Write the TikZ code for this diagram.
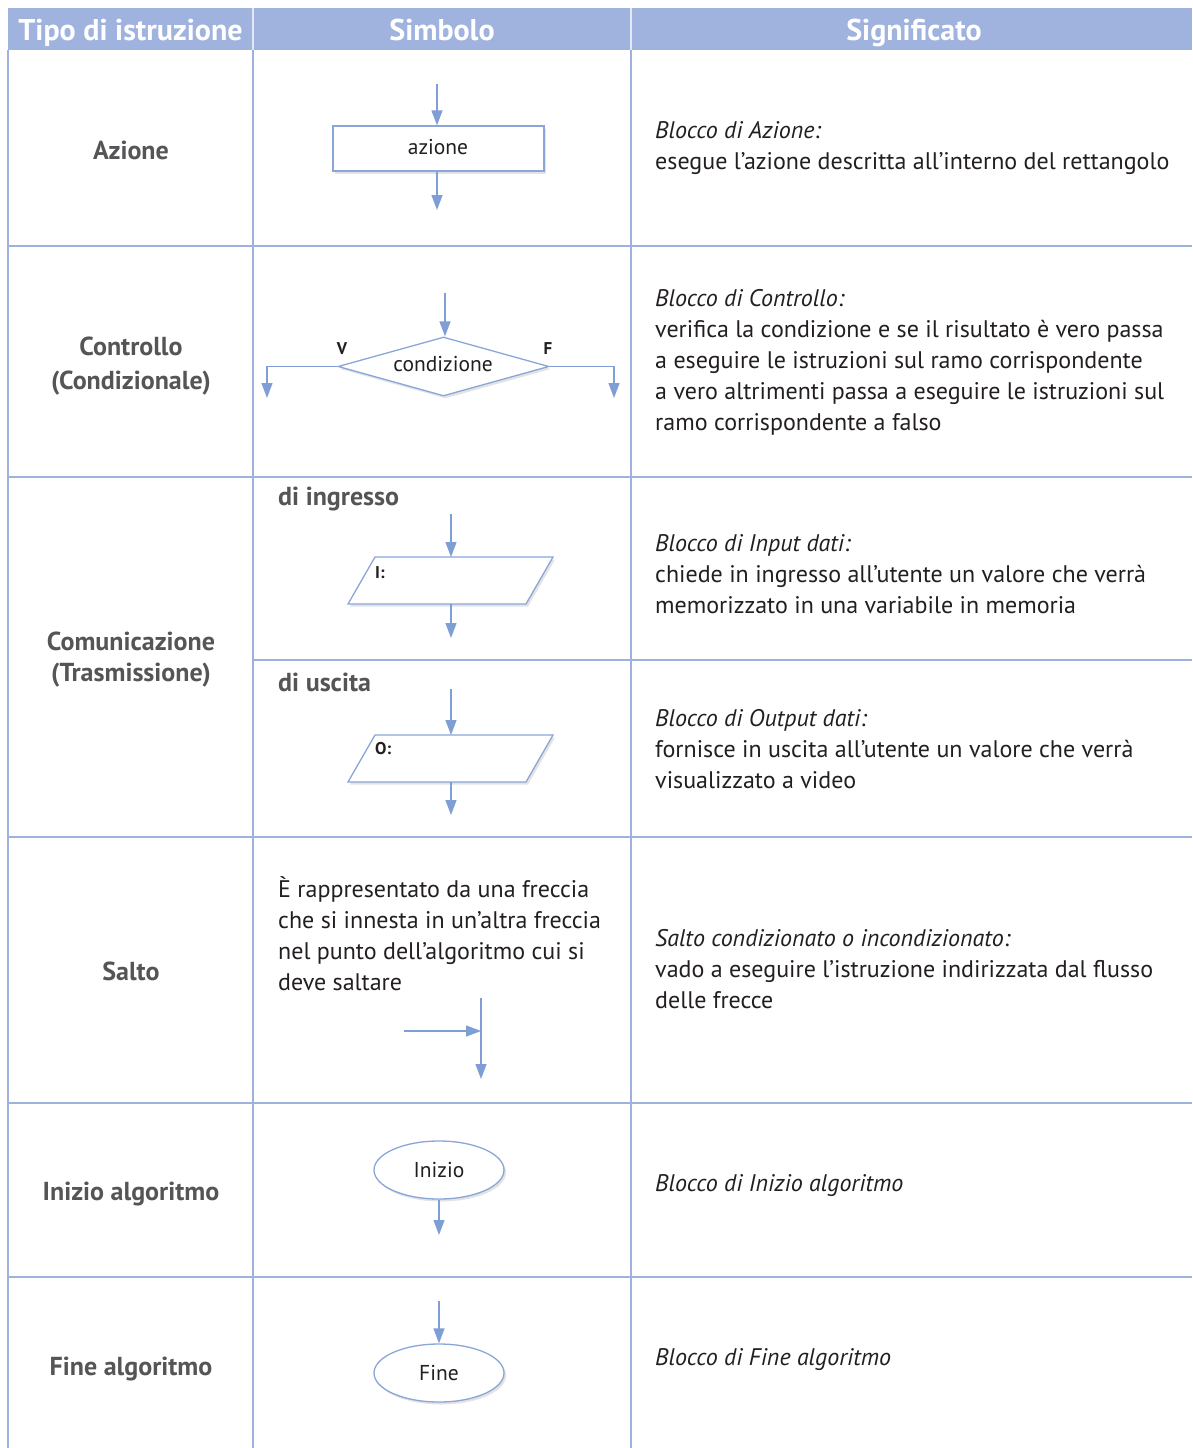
\documentclass[tikz,border=0pt]{standalone}
\usepackage{fontspec}
\setmainfont{PT Sans}
\usetikzlibrary{arrows.meta,shapes.geometric,shadows}

\definecolor{hdr}{HTML}{A0B3DE}
\definecolor{gridc}{HTML}{9DB2DD}
\definecolor{arr}{HTML}{7F9ED6}
\definecolor{shp}{HTML}{8AA6D9}
\definecolor{txt}{HTML}{231F20}
\definecolor{lab}{HTML}{555557}

\tikzset{
  flow/.style={draw=arr, line width=1.3pt, -{Triangle[width=11pt,length=15pt]}},
  shapebox/.style={draw=shp, line width=1.3pt, fill=white, inner sep=0pt,
     drop shadow={shadow xshift=2pt, shadow yshift=-2.5pt, opacity=0.18, fill=black!60}},
  gridline/.style={draw=gridc, line width=1.5pt},
  hdrtext/.style={text=white, font=\fontsize{30}{32}\selectfont\bfseries, inner sep=0pt, anchor=base},
  collab/.style={text=lab, font=\fontsize{26}{34}\selectfont\bfseries, align=center, inner sep=0pt},
  sublab/.style={text=lab, font=\fontsize{26}{30}\selectfont\bfseries, anchor=west, inner sep=0pt},
  body/.style={text=txt, font=\fontsize{24}{31}\selectfont, align=left, anchor=north west, inner sep=0pt},
  shapetext/.style={text=txt, font=\fontsize{21.5}{24}\selectfont, inner sep=0pt},
  tinylab/.style={text=txt, font=\fontsize{17}{20}\selectfont\bfseries, inner sep=0pt},
}

\begin{document}
\begin{tikzpicture}[x=1pt,y=-1pt]
\useasboundingbox (0,0) rectangle (1192,1448);
\fill[white] (0,0) rectangle (1192,1448);

% header
\fill[hdr] (8,8) rectangle (1192,50);
\draw[white!70!hdr, line width=1.2pt] (253,8) -- (253,50) (631,8) -- (631,50);
\node[hdrtext] (h1) at (130.5,40) {Tipo di istruzione};
\node[hdrtext] (h2) at (442,40) {Simbolo};
\node[hdrtext] (h3) at (914,40) {Significato};

% grid
\draw[gridline] (8,50) -- (8,1448);
\draw[gridline] (253,50) -- (253,1448);
\draw[gridline] (631,50) -- (631,1448);
\foreach \yy in {246,477,837,1103,1277} \draw[gridline] (8,\yy) -- (1192,\yy);
\draw[gridline] (253,660) -- (1192,660);

% ---------- row 1: Azione
\node[collab] (l1) at (131,150) {Azione};
\node[shapebox, minimum width=211pt, minimum height=45pt] (az) at (438.5,148.5) {};
\node[shapetext] (azt) at (438,147) {azione};
\coordinate (az0) at (437,84);
\coordinate (az1) at (437,210);
\draw[flow] (az0) -- (az.north -| az0);
\draw[flow] (az.south -| az1) -- (az1);
\node[body] (d1) at (655,121) {\textit{Blocco di Azione:}\\esegue l’azione descritta all’interno del rettangolo};

% ---------- row 2: Controllo
\node[collab] (l2) at (131,366) {Controllo\\(Condizionale)};
\node[shapebox, diamond, minimum width=211pt, minimum height=59pt] (dm) at (443.5,366.5) {};
\node[shapetext] (dmt) at (443,364) {condizione};
\coordinate (dm0) at (445,293);
\draw[flow] (dm0) -- (dm.north -| dm0);
\coordinate (vl) at (267,366.5);
\coordinate (vle) at (267,398);
\coordinate (fr) at (614,366.5);
\coordinate (fre) at (614,398);
\draw[flow] (dm.west) -- (vl) -- (vle);
\draw[flow] (dm.east) -- (fr) -- (fre);
\node[tinylab] (V) at (342,349) {V};
\node[tinylab] (F) at (548,349) {F};
\node[body] (d2) at (655,289) {\textit{Blocco di Controllo:}\\verifica la condizione e se il risultato è vero passa\\a eseguire le istruzioni sul ramo corrispondente\\a vero altrimenti passa a eseguire le istruzioni sul\\ramo corrispondente a falso};

% ---------- row 3: Comunicazione
\node[collab] (l3) at (131,660) {Comunicazione\\[-3pt](Trasmissione)};
\node[sublab] (s1) at (278,499) {di ingresso};
\path[shapebox] (375,557) -- (553,557) -- (526,604) -- (348,604) -- cycle;
\coordinate (pitop) at (451,557);
\coordinate (pibot) at (451,604);
\node[tinylab, anchor=west] (pit) at (375,573) {I:};
\coordinate (pi0) at (451,514);
\coordinate (pi1) at (451,638);
\draw[flow] (pi0) -- (pitop);
\draw[flow] (pibot) -- (pi1);
\node[body] (d3) at (655,534) {\textit{Blocco di Input dati:}\\chiede in ingresso all’utente un valore che verrà\\memorizzato in una variabile in memoria};

\node[sublab] (s2) at (278,682) {di uscita};
\path[shapebox] (375,735) -- (553,735) -- (526,782) -- (348,782) -- cycle;
\coordinate (potop) at (451,735);
\coordinate (pobot) at (451,782);
\node[tinylab, anchor=west] (pot) at (375,749) {O:};
\coordinate (po0) at (451,689);
\coordinate (po1) at (451,815);
\draw[flow] (po0) -- (potop);
\draw[flow] (pobot) -- (po1);
\node[body] (d4) at (655,709) {\textit{Blocco di Output dati:}\\fornisce in uscita all’utente un valore che verrà\\visualizzato a video};

% ---------- row 4: Salto
\node[collab] (l4) at (131,971) {Salto};
\node[body] (s3) at (278,876) {È rappresentato da una freccia\\che si innesta in un’altra freccia\\nel punto dell’algoritmo cui si\\deve saltare};
\coordinate (j0) at (481,998);
\coordinate (j1) at (481,1079);
\coordinate (jh) at (404,1031);
\coordinate (jm) at (481,1031);
\draw[flow] (j0) -- (j1);
\draw[flow] (jh) -- (jm);
\node[body] (d5) at (655,929) {\textit{Salto condizionato o incondizionato:}\\vado a eseguire l’istruzione indirizzata dal flusso\\delle frecce};

% ---------- row 5: Inizio
\node[collab] (l5) at (131,1194) {Inizio algoritmo};
\node[shapebox, ellipse, minimum width=130pt, minimum height=58pt] (ini) at (439,1170) {};
\node[shapetext] (init) at (439,1170) {Inizio};
\coordinate (ini1) at (439,1235);
\draw[flow] (ini.south) -- (ini1);
\node[body] (d6) at (655,1174) {\textit{Blocco di Inizio algoritmo}};

% ---------- row 6: Fine
\node[collab] (l6) at (131,1369) {Fine algoritmo};
\node[shapebox, ellipse, minimum width=130pt, minimum height=58pt] (fin) at (439,1373) {};
\node[shapetext] (fint) at (439,1373) {Fine};
\coordinate (fin0) at (439,1301);
\draw[flow] (fin0) -- (fin.north);
\node[body] (d7) at (655,1348) {\textit{Blocco di Fine algoritmo}};
\end{tikzpicture}
\end{document}
